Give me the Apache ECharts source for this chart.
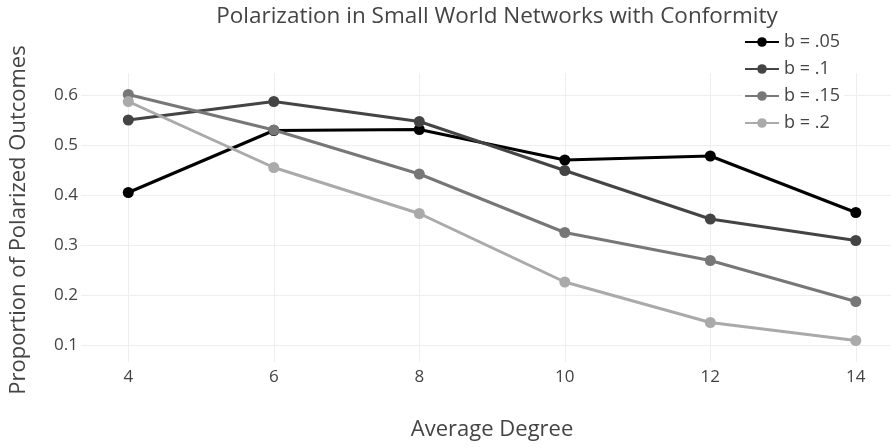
<!DOCTYPE html>
<html>
<head>
<meta charset="utf-8">
<script src="https://cdn.jsdelivr.net/npm/echarts@6/dist/echarts.min.js"></script>
<style>
html,body{margin:0;padding:0;background:#fff;}
#chart{width:891px;height:447px;}
</style>
</head>
<body>
<div id="chart"></div>
<script>
const titleText = 'Polarization in Small World Networks with Conformity';
const xTitle = 'Average Degree';
const yTitle = 'Proportion of Polarized Outcomes';
const degrees = [4, 6, 8, 10, 12, 14];
const seriesNames = ['b = .05', 'b = .1', 'b = .15', 'b = .2'];
const b05 = [0.405, 0.529, 0.531, 0.470, 0.478, 0.365];
const b10 = [0.550, 0.587, 0.547, 0.449, 0.352, 0.309];
const b15 = [0.601, 0.530, 0.442, 0.325, 0.269, 0.187];
const b20 = [0.587, 0.455, 0.363, 0.226, 0.145, 0.109];
const colors = ['#000000', '#444444', '#777777', '#aaaaaa'];

const allValues = [b05, b10, b15, b20];
const font = '"Open Sans", "Noto Sans", sans-serif';

const chart = echarts.init(document.getElementById('chart'), null, {renderer: 'canvas'});

const series = allValues.map((vals, i) => ({
  name: seriesNames[i],
  type: 'line',
  xAxisIndex: 0,
  yAxisIndex: 0,
  data: degrees.map((d, j) => [d, vals[j]]),
  symbol: 'circle',
  symbolSize: 11,
  clip: false,
  lineStyle: {color: colors[i], width: 3},
  itemStyle: {color: colors[i]},
  emphasis: {disabled: true},
  z: 3 + i
}));

chart.setOption({
  animation: false,
  backgroundColor: '#fff',
  textStyle: {fontFamily: font},
  title: {
    text: titleText,
    left: 492,
    textAlign: 'center',
    top: 0,
    textStyle: {fontFamily: font, fontSize: 22.5, fontWeight: 'normal', color: '#444'}
  },
  legend: {
    orient: 'vertical',
    left: 742,
    top: 31,
    itemWidth: 34,
    itemHeight: 12,
    itemGap: 9,
    backgroundColor: '#fff',
    padding: [2, 4, 2, 2],
    textStyle: {fontFamily: font, fontSize: 18, color: '#444'},
    data: seriesNames
  },
  grid: [
    {left: 128.3, right: 35.2, top: 95, bottom: 102},
    {left: 80, right: -15, top: 95, bottom: 102},
    {left: 128.3, right: 35.2, top: 73, bottom: 85}
  ],
  xAxis: [
    {gridIndex: 0, type: 'value', min: 4, max: 14, interval: 2, show: false},
    {gridIndex: 1, type: 'value', min: 0, max: 1, show: false},
    {
      gridIndex: 2, type: 'value', min: 4, max: 14, interval: 2,
      axisLine: {show: false}, axisTick: {show: false},
      splitLine: {show: true, lineStyle: {color: '#eeeeee', width: 1}},
      axisLabel: {fontFamily: font, fontSize: 17, color: '#444', margin: 7},
      name: xTitle, nameLocation: 'middle', nameGap: 57,
      nameTextStyle: {fontFamily: font, fontSize: 22, color: '#444'}
    }
  ],
  yAxis: [
    {gridIndex: 0, type: 'value', min: 0.1, max: 0.6, interval: 0.1, show: false},
    {
      gridIndex: 1, type: 'value', min: 0.1, max: 0.6, interval: 0.1,
      axisLine: {show: false}, axisTick: {show: false},
      splitLine: {show: true, lineStyle: {color: '#eeeeee', width: 1}},
      axisLabel: {fontFamily: font, fontSize: 17, color: '#444', margin: 3,
        formatter: v => v.toFixed(1)},
      name: yTitle, nameLocation: 'middle', nameGap: 51,
      nameTextStyle: {fontFamily: font, fontSize: 22, color: '#444'}
    },
    {gridIndex: 2, type: 'value', min: 0, max: 1, show: false}
  ],
  series: series
});
</script>
</body>
</html>
